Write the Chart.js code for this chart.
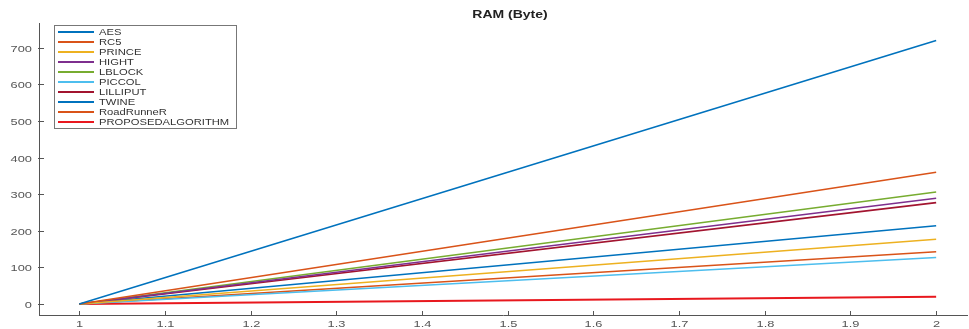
<!DOCTYPE html>
<html><head><meta charset="utf-8">
<script src="https://cdn.jsdelivr.net/npm/chart.js@4/dist/chart.umd.min.js"></script>
<style>html,body{margin:0;padding:0;background:#fff}#wrap{width:969px;height:329px}</style>
</head><body><div id="wrap"><canvas id="c" width="969" height="329"></canvas></div>
<script>
const xValues = [1, 2];
const seriesNames = ["AES","RC5","PRINCE","HIGHT","LBLOCK","PICCOL","LILLIPUT","TWINE","RoadRunneR","PROPOSEDALGORITHM"];
const AES = [0, 720];
const RC5 = [0, 360];
const PRINCE = [0, 177];
const HIGHT = [0, 289];
const LBLOCK = [0, 306];
const PICCOL = [0, 127];
const LILLIPUT = [0, 277];
const TWINE = [0, 214];
const RoadRunneR = [0, 143];
const PROPOSED = [0, 20];
const xTicks = [1,1.1,1.2,1.3,1.4,1.5,1.6,1.7,1.8,1.9,2];
const yTicks = [0,100,200,300,400,500,600,700];
const titleText = "RAM (Byte)";

const allSeries = [AES,RC5,PRINCE,HIGHT,LBLOCK,PICCOL,LILLIPUT,TWINE,RoadRunneR,PROPOSED];
const colors = ["#0072BD","#D95319","#EDB120","#7E2F8E","#77AC30","#4DBEEE","#A2142F","#0072BD","#D95319","#E8181E"];

const datasets = allSeries.map((s,i)=>({
  label: seriesNames[i],
  data: s.map((v,j)=>({x:xValues[j], y:v})),
  borderColor: colors[i],
  backgroundColor: colors[i],
  borderWidth: i===9 ? 2 : 1.6,
  pointRadius: 0,
  fill: false,
  tension: 0
}));

const FF = '"Liberation Sans", Arial, sans-serif';
function txt(ctx, s, x, y, font, align, sx, color){
  ctx.save();
  ctx.translate(x, y); ctx.scale(sx, 1);
  ctx.font = font; ctx.textAlign = align; ctx.textBaseline = 'middle';
  ctx.fillStyle = color; ctx.fillText(s, 0, 0);
  ctx.restore();
}

const axisColor = "#555";
const deco = {
  id:'deco',
  afterDraw(chart){
    const ctx = chart.ctx, xs = chart.scales.x, ys = chart.scales.y, a = chart.chartArea;
    ctx.save();
    ctx.strokeStyle = axisColor; ctx.lineWidth = 1;
    xs.ticks.forEach(t=>{const px = Math.round(xs.getPixelForValue(t.value))+0.5;
      ctx.beginPath(); ctx.moveTo(px, a.bottom); ctx.lineTo(px, a.bottom-4); ctx.stroke();
      txt(ctx, String(t.value), px, a.bottom+9, '9.5px '+FF, 'center', 1.35, '#555');});
    ys.ticks.forEach(t=>{const py = Math.round(ys.getPixelForValue(t.value))+0.5;
      ctx.beginPath(); ctx.moveTo(a.left-1, py); ctx.lineTo(a.left+5, py); ctx.stroke();
      txt(ctx, String(t.value), 32, py+0.5, '9.5px '+FF, 'right', 1.35, '#555');});
    // title
    txt(ctx, titleText, 510, 15, 'bold 10px '+FF, 'center', 1.4, '#222');
    // legend box
    const lx = 54, ly = 25, lw = 182, lh = 103, rowH = 10;
    ctx.fillStyle = '#fff'; ctx.fillRect(lx, ly, lw, lh);
    ctx.strokeStyle = '#777'; ctx.lineWidth = 1;
    ctx.strokeRect(lx+0.5, ly+0.5, lw, lh);
    chart.data.datasets.forEach((d,i)=>{
      const y = ly + 7 + i*rowH;
      ctx.strokeStyle = d.borderColor; ctx.lineWidth = 2;
      ctx.beginPath(); ctx.moveTo(lx+4, y); ctx.lineTo(lx+40, y); ctx.stroke();
      txt(ctx, d.label, lx+45, y+0.5, '9.5px '+FF, 'left', 1.18, '#333');
    });
    ctx.restore();
  }
};

new Chart(document.getElementById('c'), {
  type: 'line',
  data: { datasets },
  plugins: [deco],
  options: {
    responsive: false,
    animation: false,
    layout: { padding: { left: 0, right: 2, top: 23, bottom: 0 } },
    plugins: {
      legend: { display: false },
      tooltip: { enabled: false },
      title: { display: false }
    },
    scales: {
      x: {
        type: 'linear', min: 0.953, max: 2.036,
        afterBuildTicks: s => { s.ticks = xTicks.map(v=>({value:v})); },
        afterFit: s => { s.height = 14; },
        grid: { display: false, drawTicks: false },
        border: { display: true, color: axisColor, width: 1 },
        ticks: { display: false }
      },
      y: {
        type: 'linear', min: -30, max: 768,
        afterBuildTicks: s => { s.ticks = yTicks.map(v=>({value:v})); },
        afterFit: s => { s.width = 39; },
        grid: { display: false, drawTicks: false },
        border: { display: true, color: axisColor, width: 1 },
        ticks: { display: false }
      }
    }
  }
});
</script></body></html>
